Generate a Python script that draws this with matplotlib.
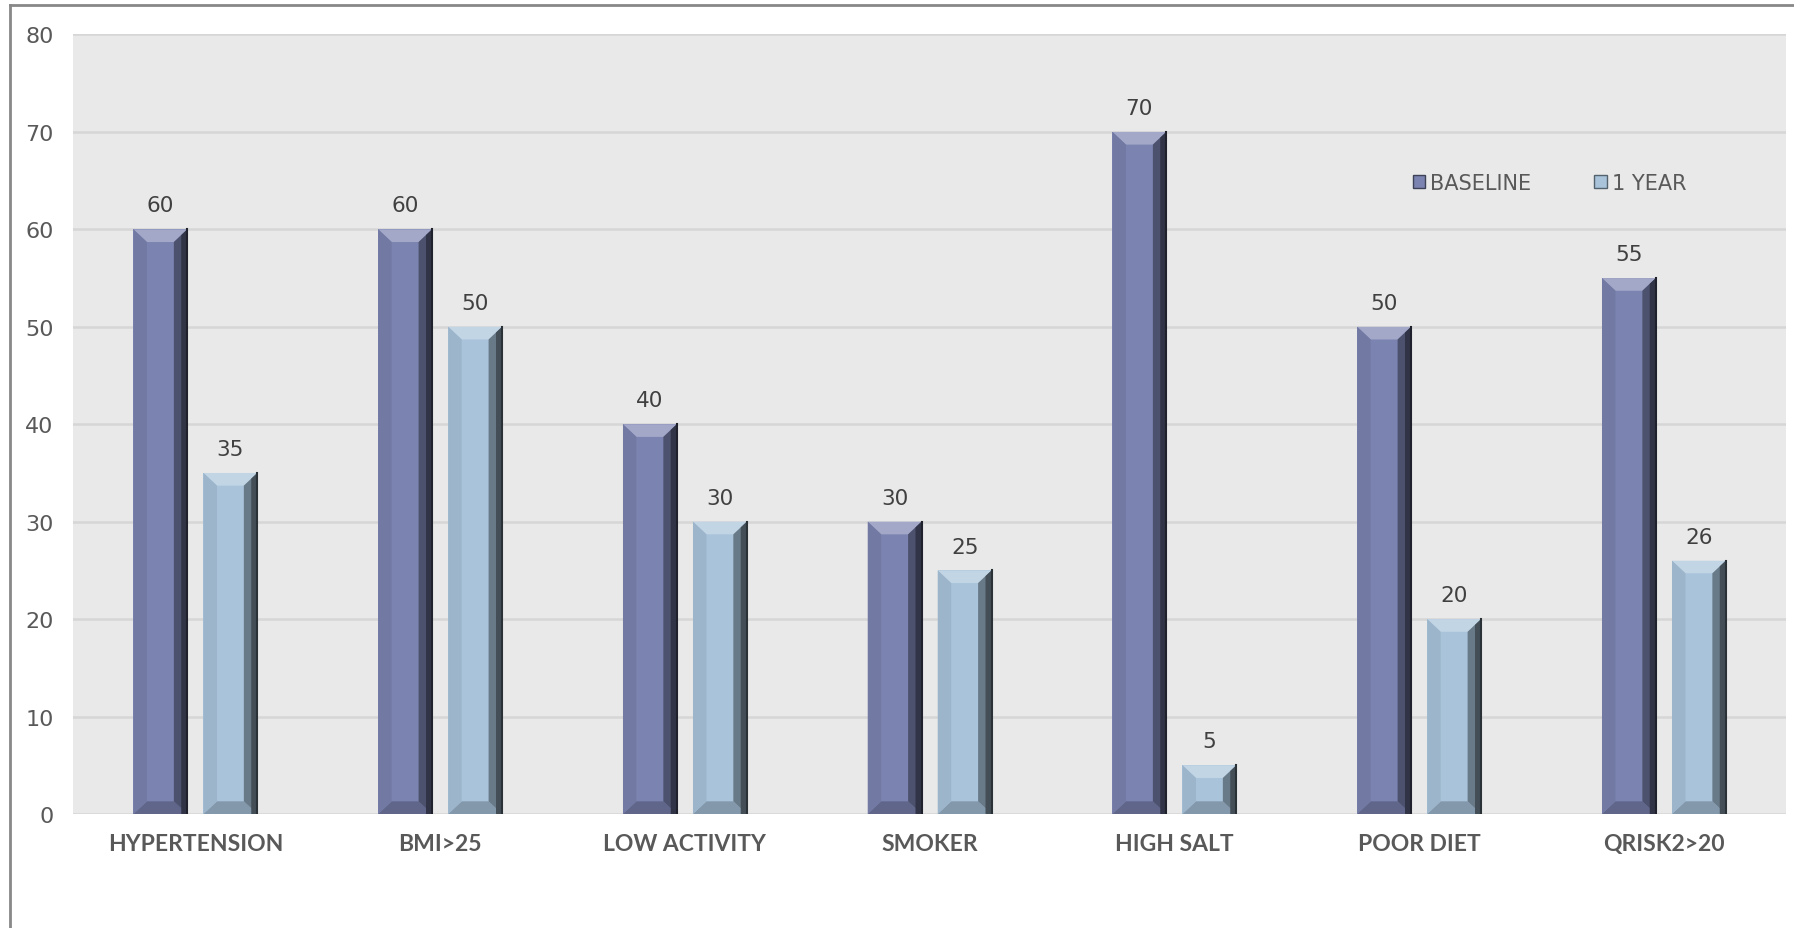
import numpy as np
import matplotlib.pyplot as plt
from matplotlib.patches import Polygon, Patch
from matplotlib.lines import Line2D

categories = ['HYPERTENSION', 'BMI>25', 'LOW ACTIVITY', 'SMOKER', 'HIGH SALT', 'POOR DIET', 'QRISK2>20']
baseline = [60, 60, 40, 30, 70, 50, 55]
one_year = [35, 50, 30, 25, 5, 20, 26]
yticks = [0, 10, 20, 30, 40, 50, 60, 70, 80]

c_base = '#7b83b0'
c_year = '#a8c3da'
txt = '#595959'

plt.rcParams['font.family'] = ['DejaVu Sans']

fig = plt.figure(figsize=(17.94, 9.29), dpi=100)
ax = fig.add_axes([0.0407, 0.1227, 0.955, 0.8391])
ax.set_facecolor('#e9e9e9')

x = np.arange(len(categories))
w = 0.22
off = 0.143


def shade(c, f):
    r, g, b = [int(c[i:i + 2], 16) / 255 for i in (1, 3, 5)]
    if f > 1:
        return (r + (1 - r) * (f - 1), g + (1 - g) * (f - 1), b + (1 - b) * (f - 1))
    return (r * f, g * f, b * f)


def bevel(bars, col):
    dx = 0.055
    for b in bars:
        x0, y0 = b.get_x(), b.get_y()
        x1, y1 = x0 + b.get_width(), y0 + b.get_height()
        dy = min(1.3, b.get_height() / 3)
        # top, bottom, left, right facets
        facets = [
            ([(x0, y1), (x1, y1), (x1 - dx, y1 - dy), (x0 + dx, y1 - dy)], shade(col, 1.3)),
            ([(x0, y0), (x1, y0), (x1 - dx, y0 + dy), (x0 + dx, y0 + dy)], shade(col, 0.78)),
            ([(x0, y0), (x0, y1), (x0 + dx, y1 - dy), (x0 + dx, y0 + dy)], shade(col, 0.93)),
            ([(x1, y0), (x1, y1), (x1 - dx, y1 - dy), (x1 - dx, y0 + dy)], shade(col, 0.62)),
        ]
        for pts, fc in facets:
            ax.add_patch(Polygon(pts, closed=True, facecolor=fc, edgecolor='none', zorder=3))
        # darker strip on the outer right edge
        ax.add_patch(Polygon([(x1 - dx * 0.45, y0), (x1, y0), (x1, y1), (x1 - dx * 0.45, y1 - dy * 0.45)],
                             closed=True, facecolor=shade(col, 0.4), edgecolor='none', zorder=3))
        ax.plot([x1, x1], [y0, y1], color=shade(col, 0.25), lw=1.5, zorder=4)


b1 = ax.bar(x - off, baseline, w, color=c_base, zorder=2)
b2 = ax.bar(x + off, one_year, w, color=c_year, zorder=2)
bevel(b1, c_base)
bevel(b2, c_year)

for bars in (b1, b2):
    for b in bars:
        ax.annotate(f'{b.get_height():g}', (b.get_x() + b.get_width() / 2, b.get_height()),
                    xytext=(0, 10), textcoords='offset points', ha='center', va='bottom',
                    fontsize=15.5, color='#404040')

ax.set_xlim(-0.5, len(categories) - 0.5)
ax.set_ylim(0, 80)
ax.set_yticks(yticks)
ax.yaxis.grid(True, color='#d6d6d6', lw=1.8, zorder=0)
ax.set_axisbelow(True)
ax.set_xticks(x)
ax.set_xticklabels(categories, fontsize=16.5, fontweight='bold', color=txt,
                   family=['Lato', 'DejaVu Sans'])
ax.tick_params(axis='x', length=0, pad=14)
ax.tick_params(axis='y', length=0, pad=14, labelsize=16, labelcolor=txt)
for s in ax.spines.values():
    s.set_visible(False)

handles = [Patch(facecolor=c_base, edgecolor=shade(c_base, 0.5)),
           Patch(facecolor=c_year, edgecolor=shade(c_year, 0.5))]
ax.legend(handles, ['BASELINE', '1 YEAR'], ncol=2, frameon=False, fontsize=15,
          labelcolor=txt, handlelength=0.6, handleheight=0.6, handletextpad=0.25,
          columnspacing=3.0, loc='center left', bbox_to_anchor=(0.771, 0.81))

# chart frame (left and top edges only)
fig.add_artist(Line2D([0.0056, 0.0056], [0, 0.9935], color='#888888', lw=2, transform=fig.transFigure))
fig.add_artist(Line2D([0.0056, 1.0], [0.9935, 0.9935], color='#888888', lw=2, transform=fig.transFigure))

fig.savefig('out.png', dpi=100)
